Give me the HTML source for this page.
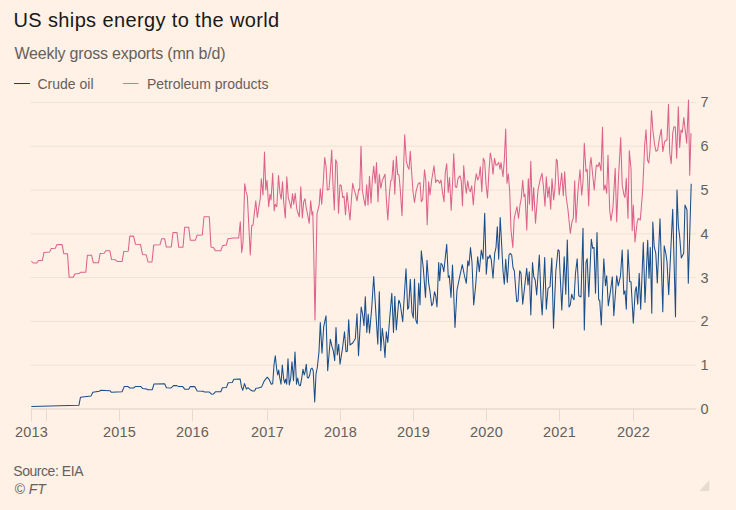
<!DOCTYPE html>
<html><head><meta charset="utf-8"><title>US ships energy to the world</title>
<style>
html,body{margin:0;padding:0;background:#fff1e5;}
svg{display:block;font-family:"Liberation Sans",sans-serif;}
.title{font-size:20px;fill:#1a1817;letter-spacing:0.37px;}
.sub{font-size:16px;fill:#66605c;letter-spacing:-0.2px;}
.leg{font-size:14px;fill:#66605c;letter-spacing:0px;}
.ax{font-size:14.5px;fill:#66605c;letter-spacing:0.15px;}
.src{font-size:14px;fill:#66605c;letter-spacing:-0.45px;}
.ft{font-size:14px;fill:#66605c;font-style:italic;}
</style></head>
<body>
<svg width="736" height="510" viewBox="0 0 736 510">
<rect width="736" height="510" fill="#fff1e5"/>
<text x="13.5" y="27" class="title">US ships energy to the world</text>
<text x="14.4" y="58.7" class="sub">Weekly gross exports (mn b/d)</text>
<line x1="14" x2="30" y1="83.5" y2="83.5" stroke="#2a3d54" stroke-width="1"/>
<text x="37.5" y="88.8" class="leg">Crude oil</text>
<line x1="123" x2="138.5" y1="83.5" y2="83.5" stroke="#b98680" stroke-width="1"/>
<text x="147" y="88.8" class="leg">Petroleum products</text>
<line x1="30.5" x2="696" y1="409.00" y2="409.00" stroke="#e6d9ce" stroke-width="1.3"/>
<text x="700.6" y="413.90" class="ax">0</text>
<line x1="30.5" x2="696" y1="365.20" y2="365.20" stroke="#efe2d6" stroke-width="1"/>
<text x="700.6" y="370.10" class="ax">1</text>
<line x1="30.5" x2="696" y1="321.40" y2="321.40" stroke="#efe2d6" stroke-width="1"/>
<text x="700.6" y="326.30" class="ax">2</text>
<line x1="30.5" x2="696" y1="277.60" y2="277.60" stroke="#efe2d6" stroke-width="1"/>
<text x="700.6" y="282.50" class="ax">3</text>
<line x1="30.5" x2="696" y1="233.80" y2="233.80" stroke="#efe2d6" stroke-width="1"/>
<text x="700.6" y="238.70" class="ax">4</text>
<line x1="30.5" x2="696" y1="190.00" y2="190.00" stroke="#efe2d6" stroke-width="1"/>
<text x="700.6" y="194.90" class="ax">5</text>
<line x1="30.5" x2="696" y1="146.20" y2="146.20" stroke="#efe2d6" stroke-width="1"/>
<text x="700.6" y="151.10" class="ax">6</text>
<line x1="30.5" x2="696" y1="102.40" y2="102.40" stroke="#efe2d6" stroke-width="1"/>
<text x="700.6" y="107.30" class="ax">7</text>
<line x1="31.5" x2="31.5" y1="409.5" y2="421" stroke="#e6d9ce" stroke-width="1"/>
<text x="31.5" y="437.4" class="ax" text-anchor="middle">2013</text>
<line x1="46.5" x2="46.5" y1="409.5" y2="421" stroke="#e6d9ce" stroke-width="1"/>
<line x1="119.5" x2="119.5" y1="409.5" y2="421" stroke="#e6d9ce" stroke-width="1"/>
<text x="119.5" y="437.4" class="ax" text-anchor="middle">2015</text>
<line x1="192.5" x2="192.5" y1="409.5" y2="421" stroke="#e6d9ce" stroke-width="1"/>
<text x="192.5" y="437.4" class="ax" text-anchor="middle">2016</text>
<line x1="267.5" x2="267.5" y1="409.5" y2="421" stroke="#e6d9ce" stroke-width="1"/>
<text x="267.5" y="437.4" class="ax" text-anchor="middle">2017</text>
<line x1="340.5" x2="340.5" y1="409.5" y2="421" stroke="#e6d9ce" stroke-width="1"/>
<text x="340.5" y="437.4" class="ax" text-anchor="middle">2018</text>
<line x1="413.5" x2="413.5" y1="409.5" y2="421" stroke="#e6d9ce" stroke-width="1"/>
<text x="413.5" y="437.4" class="ax" text-anchor="middle">2019</text>
<line x1="486.5" x2="486.5" y1="409.5" y2="421" stroke="#e6d9ce" stroke-width="1"/>
<text x="486.5" y="437.4" class="ax" text-anchor="middle">2020</text>
<line x1="559.5" x2="559.5" y1="409.5" y2="421" stroke="#e6d9ce" stroke-width="1"/>
<text x="559.5" y="437.4" class="ax" text-anchor="middle">2021</text>
<line x1="633.5" x2="633.5" y1="409.5" y2="421" stroke="#e6d9ce" stroke-width="1"/>
<text x="633.5" y="437.4" class="ax" text-anchor="middle">2022</text>
<path d="M31.3,261.0 L33.3,263.0 L36.8,263.0 L38.5,260.5 L42.4,260.5 L44.0,252.4 L49.6,252.1 L51.2,248.6 L55.3,248.3 L56.9,244.6 L62.1,244.6 L63.8,253.7 L67.5,253.7 L69.1,277.2 L73.2,277.2 L74.8,274.1 L78.9,273.6 L80.5,272.3 L85.8,272.3 L87.4,255.3 L91.6,255.3 L93.3,262.7 L98.5,262.7 L100.1,253.5 L104.2,253.2 L105.8,250.8 L109.9,250.8 L111.5,259.4 L115.1,259.7 L117.2,261.4 L122.1,261.4 L123.8,251.6 L128.2,251.3 L129.8,236.1 L133.5,236.1 L135.5,244.2 L140.5,244.6 L142.5,254.4 L145.0,254.8 L146.3,255.0 L148.0,262.0 L152.0,262.0 L153.7,245.0 L160.0,244.7 L161.7,238.8 L164.7,238.8 L166.3,247.0 L171.3,247.0 L173.0,232.5 L177.0,232.5 L178.7,247.2 L183.0,247.2 L184.7,227.2 L188.7,227.2 L190.3,240.3 L195.3,240.3 L197.0,235.3 L202.3,235.0 L204.0,216.7 L209.3,216.7 L211.0,247.0 L213.7,247.7 L215.3,250.8 L220.8,250.8 L222.5,245.8 L226.3,245.0 L228.0,238.7 L233.3,238.0 L238.7,238.0 L240.3,221.7 L241.7,252.5 L243.0,243.3 L244.7,183.7 L246.0,191.7 L247.3,195.8 L250.3,255.0 L251.7,225.8 L253.0,225.0 L255.8,200.8 L257.3,217.5 L259.0,205.8 L260.3,198.3 L261.3,178.7 L263.0,195.0 L264.5,152.0 L265.8,190.0 L267.0,180.3 L268.7,206.7 L270.0,194.2 L271.0,200.0 L272.7,173.3 L274.2,210.8 L275.3,204.2 L276.8,206.7 L278.5,175.5 L280.0,193.3 L281.2,199.2 L282.5,181.7 L283.8,203.3 L285.3,218.0 L286.8,176.7 L288.3,198.3 L289.7,202.5 L291.0,208.3 L292.5,193.7 L293.7,204.2 L295.2,193.3 L296.7,208.3 L298.0,213.3 L299.3,216.7 L300.8,186.7 L302.3,218.0 L303.7,201.7 L305.0,198.7 L306.3,208.3 L307.7,215.0 L309.2,223.3 L310.7,200.8 L312.0,215.0 L312.8,211.7 L313.8,256.7 L315.0,320.0 L317.0,214.0 L317.5,211.7 L319.2,205.0 L320.3,188.7 L321.7,204.2 L323.3,181.7 L324.7,157.5 L326.0,165.8 L327.3,190.0 L329.0,189.2 L330.3,172.5 L331.7,150.0 L333.0,185.0 L334.3,210.0 L335.7,159.7 L337.0,163.3 L338.5,213.3 L340.0,184.7 L341.3,185.8 L342.7,197.5 L344.0,196.3 L345.5,214.7 L347.0,192.5 L348.3,205.0 L350.0,220.0 L351.3,200.8 L352.7,183.3 L354.0,189.2 L355.3,193.3 L357.0,200.8 L358.7,189.2 L359.7,190.0 L361.0,146.3 L362.3,190.0 L363.7,198.3 L365.3,205.8 L366.7,184.7 L368.0,205.0 L369.5,176.3 L371.0,203.3 L372.3,180.0 L373.7,166.3 L375.2,183.3 L376.5,162.5 L378.0,201.7 L379.3,174.2 L380.8,188.3 L382.2,180.8 L385.0,174.2 L386.3,198.3 L387.8,220.0 L389.3,195.0 L390.7,180.8 L391.8,180.0 L393.3,160.3 L394.8,194.2 L396.3,156.3 L397.7,174.2 L399.0,175.0 L400.3,190.0 L402.0,215.8 L404.7,134.7 L406.3,160.8 L407.7,166.7 L409.0,169.2 L410.3,151.3 L411.7,173.3 L413.0,191.7 L414.5,202.5 L416.0,191.7 L418.0,184.2 L420.0,182.5 L421.3,201.7 L422.7,199.2 L424.5,169.7 L425.8,180.0 L427.2,224.7 L428.7,181.7 L430.0,195.0 L431.7,180.0 L434.0,165.8 L435.7,182.5 L437.0,180.0 L438.3,180.8 L439.7,183.3 L441.0,180.0 L442.3,190.8 L444.0,201.7 L445.3,172.5 L446.7,163.7 L448.2,192.5 L449.5,177.5 L451.2,210.3 L452.7,180.0 L453.7,153.7 L455.3,186.7 L456.7,187.5 L458.0,178.3 L460.0,175.8 L461.3,180.8 L462.5,205.8 L463.7,165.8 L465.0,182.5 L466.3,193.3 L467.7,180.8 L469.0,189.2 L470.3,191.7 L471.7,185.8 L473.3,205.0 L475.0,182.5 L476.3,173.7 L477.7,180.0 L479.0,176.7 L480.3,166.7 L481.8,191.7 L483.3,158.3 L484.7,161.7 L486.0,184.2 L487.5,198.0 L489.0,170.8 L490.3,153.0 L491.7,160.0 L493.0,174.2 L494.5,158.3 L496.0,165.3 L497.3,164.7 L498.7,162.5 L500.0,169.2 L501.0,162.5 L503.0,176.7 L504.3,160.0 L505.7,129.0 L507.0,183.3 L508.3,173.7 L509.7,191.7 L511.0,230.0 L512.8,247.5 L514.2,218.3 L517.0,206.7 L518.5,218.3 L520.0,205.0 L521.3,198.3 L522.7,180.3 L524.0,196.7 L525.0,194.2 L526.8,230.0 L528.3,178.7 L529.5,204.2 L530.8,161.3 L532.3,210.8 L533.7,187.5 L535.5,223.3 L538.0,190.0 L540.3,179.2 L542.0,173.3 L543.3,185.0 L545.0,206.3 L546.3,176.7 L547.8,197.5 L549.2,186.7 L550.7,209.2 L552.0,178.7 L553.7,200.0 L555.0,187.5 L556.3,159.2 L557.3,160.8 L559.2,195.0 L561.7,173.0 L563.3,195.8 L564.7,171.7 L566.0,195.8 L568.0,210.0 L570.3,233.3 L572.0,221.7 L573.3,218.3 L574.7,180.8 L576.0,222.5 L578.0,190.8 L580.0,169.7 L581.7,195.3 L583.0,181.7 L584.3,143.3 L586.0,171.7 L587.2,169.2 L588.7,205.8 L590.0,165.0 L591.0,157.5 L592.7,175.0 L594.2,190.0 L596.3,165.0 L598.0,166.7 L599.3,162.5 L601.0,170.8 L602.5,127.2 L603.8,190.0 L605.2,185.0 L606.7,193.3 L608.0,155.3 L609.7,210.0 L611.0,220.8 L613.0,206.7 L615.2,168.3 L616.7,221.7 L618.3,181.7 L620.7,137.5 L622.2,185.0 L623.8,194.2 L625.0,197.5 L626.3,178.3 L628.0,218.3 L629.3,150.8 L631.0,168.3 L632.2,230.8 L633.3,205.0 L635.0,242.0 L637.2,221.7 L638.3,218.3 L640.3,220.0 L642.7,190.0 L644.7,145.0 L646.0,129.7 L647.5,160.0 L648.8,163.0 L650.0,150.0 L651.5,110.8 L653.0,131.7 L654.7,145.0 L656.0,151.3 L657.7,150.0 L659.3,139.2 L661.3,129.2 L662.8,151.7 L664.7,141.3 L667.0,139.7 L668.5,104.2 L669.7,152.5 L671.2,163.7 L672.7,133.3 L674.0,126.7 L675.3,127.0 L676.7,158.3 L678.3,106.7 L679.7,147.5 L681.0,130.0 L682.3,132.5 L683.8,117.5 L685.0,128.3 L686.7,143.3 L688.5,100.0 L689.7,175.3 L691.0,133.3" fill="none" stroke="#dc628c" stroke-width="1.05" stroke-linejoin="round"/>
<path d="M31.3,406.5 L78.9,405.3 L80.5,397.2 L91.1,395.9 L92.8,392.3 L99.3,391.3 L100.9,390.3 L109.9,390.7 L111.5,392.3 L122.1,391.8 L124.2,386.6 L127.8,386.4 L129.8,388.0 L133.5,388.0 L135.7,386.4 L140.9,386.6 L142.5,388.4 L146.6,389.0 L147.4,389.7 L152.3,389.7 L154.0,384.0 L164.6,383.8 L166.5,387.7 L171.1,388.0 L173.5,385.6 L176.8,385.6 L178.4,386.4 L182.5,386.4 L184.9,389.3 L188.7,389.3 L190.3,386.6 L194.7,386.6 L197.2,391.0 L202.9,391.3 L204.5,392.0 L209.4,392.1 L211.5,394.2 L213.5,393.9 L215.4,391.8 L220.8,391.8 L222.4,387.7 L226.5,387.4 L228.2,382.8 L232.2,382.5 L233.9,379.2 L240.1,378.9 L241.5,386.9 L242.8,390.2 L244.5,383.6 L246.4,389.0 L248.0,387.7 L250.2,389.7 L252.6,391.0 L254.6,391.0 L255.9,388.2 L258.3,388.0 L261.6,386.9 L264.3,380.8 L267.2,377.2 L269.3,379.7 L271.3,384.2 L272.7,383.7 L274.0,365.0 L275.3,355.8 L276.7,369.2 L277.7,375.0 L278.7,370.0 L279.7,377.5 L281.0,384.2 L282.3,365.0 L283.7,379.2 L284.7,383.0 L285.7,379.2 L286.7,384.2 L288.0,358.7 L289.3,385.0 L290.7,378.3 L292.0,361.7 L293.5,380.8 L295.0,352.0 L296.5,384.2 L297.7,378.0 L299.0,385.0 L300.3,385.8 L301.7,378.3 L303.0,369.2 L304.2,375.0 L305.2,371.7 L306.3,364.2 L307.3,377.5 L308.5,378.0 L309.7,375.0 L310.8,369.2 L312.0,368.0 L313.2,370.8 L314.7,402.0 L316.0,374.2 L317.3,367.5 L319.0,351.7 L320.3,322.5 L322.0,353.3 L323.7,326.7 L326.0,315.8 L327.7,370.8 L330.3,339.2 L332.0,346.7 L333.3,350.8 L334.7,360.8 L336.0,327.5 L337.3,355.0 L338.7,344.2 L340.0,364.2 L342.5,348.3 L344.5,331.7 L346.0,351.7 L347.3,351.3 L348.7,319.7 L350.0,345.0 L352.7,343.0 L355.3,338.7 L357.0,313.7 L358.5,355.8 L361.2,307.0 L362.7,315.0 L364.0,325.8 L365.3,296.7 L366.8,332.5 L368.2,314.2 L369.5,333.3 L371.7,308.3 L373.7,276.5 L375.8,311.7 L377.8,344.2 L379.3,291.7 L380.8,350.8 L382.3,328.3 L383.7,340.8 L385.0,357.5 L386.3,331.7 L387.8,342.5 L389.7,318.3 L391.8,293.3 L393.5,332.5 L394.8,296.3 L396.3,330.0 L398.7,300.8 L399.0,300.3 L400.3,304.2 L402.7,321.7 L406.0,268.7 L407.7,309.2 L408.7,307.5 L410.3,279.2 L412.0,312.5 L413.3,318.0 L414.5,279.0 L415.8,320.0 L417.2,323.7 L418.7,283.3 L420.0,305.0 L421.3,250.8 L423.3,268.3 L425.5,297.5 L427.0,260.3 L428.7,283.3 L430.0,291.7 L431.7,305.8 L433.0,303.3 L434.5,291.7 L435.7,295.8 L437.0,307.0 L438.7,262.5 L439.7,280.8 L441.0,263.3 L442.5,265.3 L443.8,271.7 L446.7,244.2 L448.3,277.5 L449.3,275.8 L451.0,297.5 L452.5,265.0 L453.8,296.7 L455.0,327.5 L457.0,290.0 L459.7,276.7 L462.3,264.7 L464.3,275.0 L466.3,283.3 L467.8,260.8 L469.0,265.8 L470.5,247.5 L472.0,262.5 L473.7,305.0 L475.7,285.0 L477.7,256.7 L479.3,271.7 L481.3,250.0 L483.0,259.2 L484.7,213.3 L486.3,274.2 L487.7,256.7 L488.7,258.3 L490.0,255.0 L491.3,260.0 L493.0,278.3 L494.7,253.3 L496.0,247.5 L497.3,226.7 L498.7,259.2 L500.2,217.5 L501.7,245.8 L503.0,270.8 L504.3,284.2 L505.7,259.2 L507.3,282.5 L509.0,255.0 L510.3,253.3 L511.7,255.0 L513.0,267.5 L514.3,270.8 L516.7,301.7 L518.0,300.8 L519.7,270.8 L521.0,273.3 L522.7,304.2 L526.7,268.3 L528.0,285.0 L529.3,271.7 L530.8,315.0 L532.5,262.5 L533.8,276.7 L535.2,280.0 L536.7,295.0 L539.3,255.0 L541.0,298.3 L542.2,315.0 L544.7,257.5 L546.3,309.2 L548.0,288.3 L550.0,286.7 L551.8,258.0 L553.5,328.3 L555.8,271.7 L558.0,249.7 L559.2,250.8 L559.7,265.0 L561.8,310.0 L564.2,256.7 L565.8,294.2 L567.3,240.0 L569.0,307.0 L570.3,305.0 L571.7,294.2 L572.7,297.5 L574.0,299.7 L575.5,273.3 L577.2,258.7 L578.8,295.8 L581.0,297.0 L583.0,228.3 L584.3,330.0 L586.0,262.5 L587.2,258.7 L588.8,296.7 L591.3,239.2 L592.7,248.3 L594.0,247.5 L595.5,293.3 L597.0,232.5 L598.7,300.0 L599.7,300.3 L601.3,325.0 L603.8,258.7 L605.5,285.8 L606.7,275.8 L608.3,305.8 L610.5,290.8 L612.3,276.7 L613.8,315.8 L616.7,275.8 L618.3,285.8 L620.5,275.8 L622.2,250.0 L623.8,294.2 L625.0,290.8 L626.3,309.2 L628.0,249.7 L629.7,281.7 L631.0,281.7 L633.3,323.3 L635.2,290.8 L636.3,286.7 L637.7,304.2 L639.2,273.3 L640.7,309.2 L643.3,242.5 L645.0,302.5 L647.7,240.3 L649.0,278.3 L650.3,247.5 L651.8,313.3 L652.8,222.0 L654.2,246.7 L655.8,253.3 L657.3,283.0 L660.0,218.7 L662.8,311.7 L664.2,245.8 L665.8,253.3 L667.0,261.7 L668.7,294.7 L672.7,209.2 L675.5,316.7 L677.0,190.0 L678.3,225.0 L679.7,236.7 L681.3,258.0 L683.7,253.3 L685.0,205.0 L687.0,210.0 L688.3,283.3 L691.2,183.7" fill="none" stroke="#194e89" stroke-width="1.05" stroke-linejoin="round"/>

<text x="13.3" y="475.7" class="src">Source: EIA</text>
<text x="14.5" y="493.6" class="ft">© FT</text>
<polygon points="709.3,480.2 709.3,491 699.3,491" fill="#e6dbd1"/>
</svg>
</body></html>
